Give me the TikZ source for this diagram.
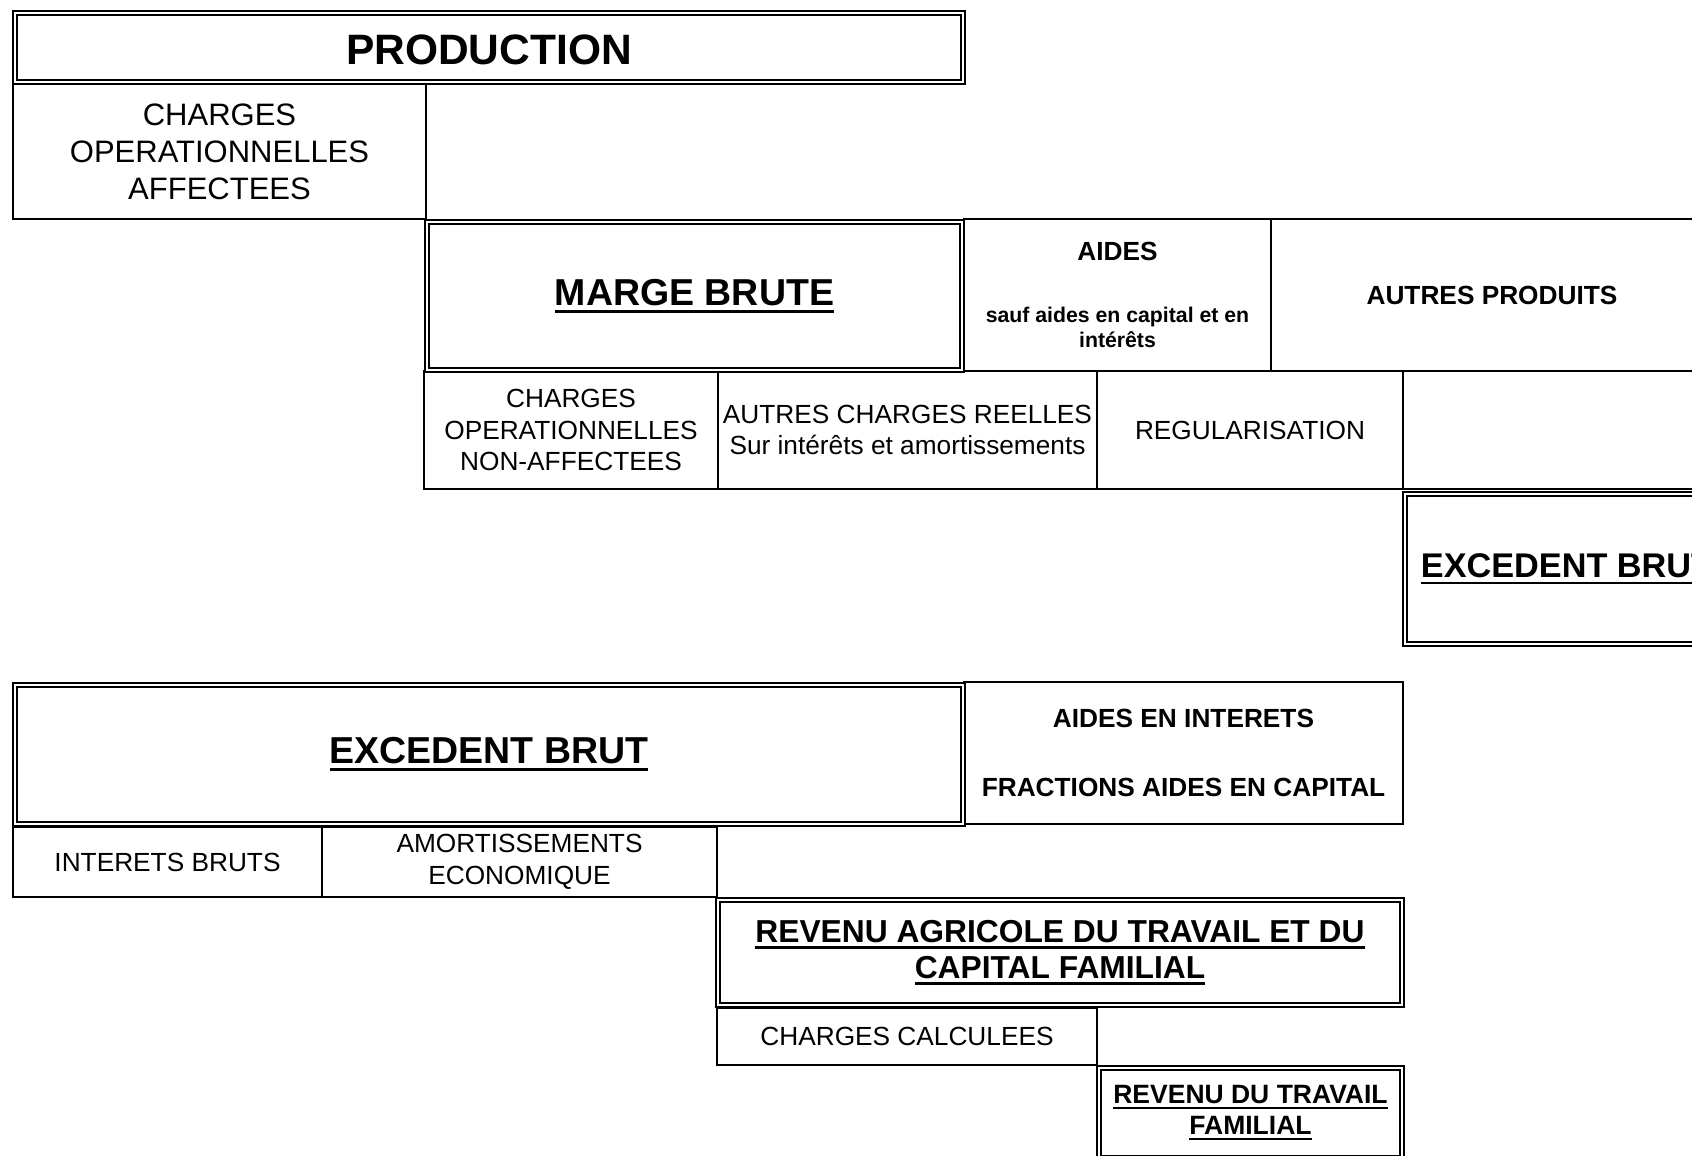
\documentclass[tikz,border=0pt]{standalone}
\usepackage{fontspec}
\setmainfont{Liberation Sans}
\newcommand{\souligne}[1]{\setbox0=\hbox{#1}\rlap{\rule[-0.2em]{\wd0}{0.08em}}\box0}
\begin{document}
\begin{tikzpicture}[x=0.4pt,y=-0.4pt,
	box/.style={draw,line width=1.05pt,inner sep=0pt,align=center},
	dbox/.style={draw,line width=0.7pt,double,double distance=1.1pt,inner sep=0pt,align=center},
	sz/.style 2 args={minimum width=#1*0.4pt,minimum height=#2*0.4pt},
	normal/.style={font=\fontsize{10.5}{12.6}\selectfont},
	gras/.style={font=\fontsize{10.5}{12.6}\selectfont\bfseries},
	titre/.style={font=\fontsize{15}{18}\selectfont\bfseries}]
	\useasboundingbox (0,0) rectangle (1692,1155);
	\clip (0,0) rectangle (1692,1155);
	\node[box,sz={413}{135},font=\fontsize{12.4}{14.8}\selectfont] (chargAff) at (219.5,151.5) {CHARGES\\OPERATIONNELLES\\AFFECTEES};
	\node[box,sz={307}{152},font=\fontsize{8.5}{10}\selectfont\bfseries] (aides) at (1117.5,295) {{\fontsize{10.5}{12.6}\selectfont AIDES}\\[14.8pt]sauf aides en capital et en\\intérêts};
	\node[box,gras,sz={442}{152}] (autresProd) at (1492,295) {AUTRES PRODUITS};
	\node[box,normal,sz={294}{118}] (chargNonAff) at (571,430) {CHARGES\\OPERATIONNELLES\\NON-AFFECTEES};
	\node[box,normal,sz={379}{118}] (autresCharges) at (907.5,430) {AUTRES CHARGES REELLES\\Sur intérêts et amortissements};
	\node[box,normal,sz={306}{118}] (regul) at (1250,430) {REGULARISATION};
	\node[box,sz={310}{118}] (vide) at (1558,430) {};
	\node[box,gras,sz={439}{142}] (aidesInt) at (1183.5,753) {AIDES EN INTERETS\\[15pt]FRACTIONS AIDES EN CAPITAL};
	\node[box,normal,sz={309}{70}] (interets) at (167.5,862) {INTERETS BRUTS};
	\node[box,normal,sz={395}{70}] (amort) at (519.5,862) {AMORTISSEMENTS\\ECONOMIQUE};
	\node[box,normal,sz={380}{57}] (chargCalc) at (907,1036.5) {CHARGES CALCULEES};
	\node[dbox,sz={948}{69},font=\fontsize{17}{20}\selectfont\bfseries,text height=13.5pt] (prod) at (489,47.5) {PRODUCTION};
	\node[dbox,titre,sz={535}{148}] (marge) at (694.5,296) {\souligne{MARGE BRUTE}};
	\node[dbox,sz={323}{150},font=\fontsize{13.7}{16}\selectfont\bfseries] (ebDroite) at (1566.5,569) {\souligne{EXCEDENT BRUT}};
	\node[dbox,titre,sz={948}{139}] (ebGauche) at (489,754.5) {\souligne{EXCEDENT BRUT}};
	\node[dbox,sz={684}{105},font=\fontsize{12.7}{14.4}\selectfont\bfseries] (revAgri) at (1060,952.5) {\souligne{REVENU AGRICOLE DU TRAVAIL ET DU}\\\souligne{CAPITAL FAMILIAL}};
	\node[dbox,sz={303}{90},font=\fontsize{10.6}{12.4}\selectfont\bfseries] (revTrav) at (1250.5,1113) {\souligne{REVENU DU TRAVAIL}\\\souligne{FAMILIAL}};
\end{tikzpicture}
\end{document}
